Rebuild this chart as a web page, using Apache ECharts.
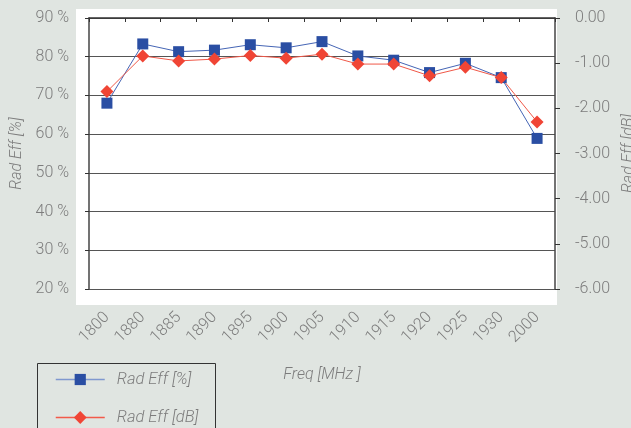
<!DOCTYPE html>
<html><head><meta charset="utf-8">
<script src="https://cdn.jsdelivr.net/npm/echarts@6/dist/echarts.min.js"></script>
<style>html,body{margin:0;padding:0;background:#e0e5e1;}#c{width:631px;height:428px;}</style>
</head><body><div id="c"></div>
<script>
const categories = ['1800','1880','1885','1890','1895','1900','1905','1910','1915','1920','1925','1930','2000'];
const radEffPct = [68.0, 83.3, 81.3, 81.7, 83.1, 82.3, 83.9, 80.2, 79.1, 75.9, 78.3, 74.6, 58.9];
const radEffDb = [-1.63, -0.84, -0.95, -0.91, -0.83, -0.89, -0.80, -1.02, -1.02, -1.28, -1.09, -1.32, -2.30];
const leftTicks = {min: 20, max: 90, interval: 10};
const rightTicks = {min: -6, max: 0, interval: 1};

const txt = '#7c7c7c';
const font = 'Roboto, "Liberation Sans", Arial, sans-serif';
const fs = 16;
const fw = 300;
const chart = echarts.init(document.getElementById('c'));
const legendText = {color: txt, fontStyle: 'italic', fontSize: 16.5, fontWeight: fw, fontFamily: font, padding: [0, 0, 0, 7]};
chart.setOption({
  backgroundColor: '#e0e5e1',
  animation: false,
  textStyle: {fontFamily: font},
  graphic: [
    {type: 'rect', shape: {x: 76, y: 9, width: 481, height: 296}, style: {fill: '#ffffff'}, z: -10},
    {type: 'rect', shape: {x: 37.5, y: 363.5, width: 178, height: 80}, style: {fill: 'none', stroke: '#333', lineWidth: 1}, z: -5}
  ],
  grid: {left: 89, right: 76, top: 18, bottom: 139, containLabel: false, outerBoundsMode: 'none'},
  legend: [{
    left: 55, top: 371, padding: 0, itemWidth: 49, itemHeight: 14,
    lineStyle: {color: '#7f98cf', width: 1.5},
    textStyle: legendText, data: ['Rad Eff [%]']
  }, {
    left: 55, top: 409, padding: 0, itemWidth: 49, itemHeight: 16,
    lineStyle: {color: '#f25a4a', width: 1.5},
    textStyle: legendText, data: ['Rad Eff [dB]']
  }],
  xAxis: {
    type: 'category', data: categories, boundaryGap: true,
    name: 'Freq [MHz ]', nameLocation: 'middle', nameGap: 78,
    nameTextStyle: {color: txt, fontStyle: 'italic', fontSize: fs, fontWeight: fw},
    axisLine: {lineStyle: {color: '#333', width: 1.5}},
    axisTick: {show: true, length: 4, lineStyle: {color: '#333'}},
    axisLabel: {rotate: 45, color: txt, fontSize: fs, fontWeight: fw, margin: 26}
  },
  yAxis: [{
    type: 'value', position: 'left', min: leftTicks.min, max: leftTicks.max, interval: leftTicks.interval,
    name: 'Rad Eff [%]', nameLocation: 'middle', nameGap: 64,
    nameTextStyle: {color: txt, fontStyle: 'italic', fontSize: fs, fontWeight: fw},
    axisLine: {show: true, lineStyle: {color: '#444', width: 1.5}},
    axisTick: {show: true, length: 4, lineStyle: {color: '#333'}},
    axisLabel: {color: txt, fontSize: fs, fontWeight: fw, margin: 20, formatter: v => v + ' %'},
    splitLine: {show: true, lineStyle: {color: '#555', width: 1.2}}
  }, {
    type: 'value', position: 'right', min: rightTicks.min, max: rightTicks.max, interval: rightTicks.interval,
    name: 'Rad Eff [dB]', nameLocation: 'middle', nameGap: 65, nameRotate: 90,
    nameTextStyle: {color: txt, fontStyle: 'italic', fontSize: fs, fontWeight: fw},
    axisLine: {show: true, lineStyle: {color: '#444', width: 1.5}},
    axisTick: {show: true, length: 5, lineStyle: {color: '#333'}},
    axisLabel: {color: txt, fontSize: fs, fontWeight: fw, margin: 20, formatter: v => v.toFixed(2)},
    splitLine: {show: false}
  }],
  series: [{
    name: 'Rad Eff [%]', type: 'line', yAxisIndex: 0, data: radEffPct,
    symbol: 'rect', symbolSize: 11,
    itemStyle: {color: '#2a4ea3'}, lineStyle: {color: '#4565b5', width: 1}
  }, {
    name: 'Rad Eff [dB]', type: 'line', yAxisIndex: 1, data: radEffDb,
    symbol: 'diamond', symbolSize: 13,
    itemStyle: {color: '#f04535'}, lineStyle: {color: '#f05848', width: 1}
  }]
});
</script></body></html>
